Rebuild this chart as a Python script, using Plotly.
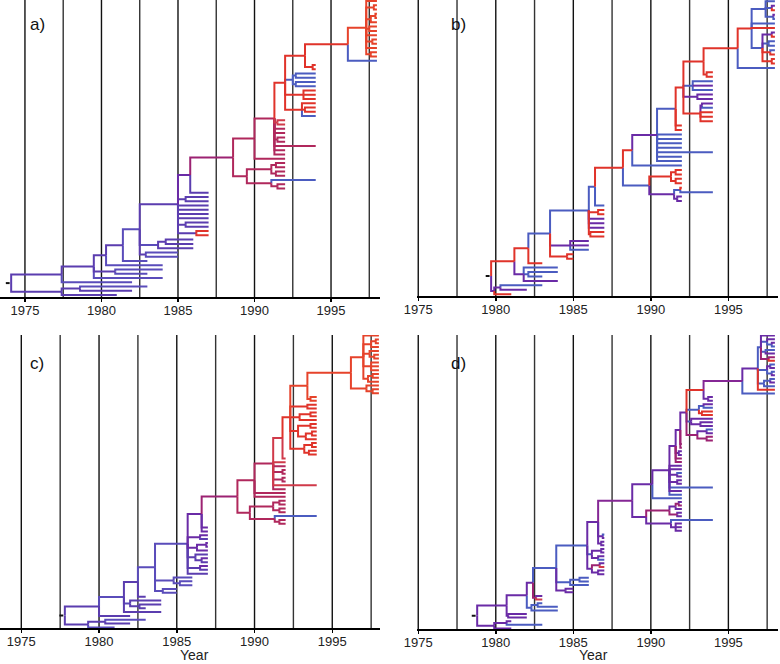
import plotly.graph_objects as go

# ---------------- data ----------------
# Trees in Newick-like form: leaves "year/trait", internal nodes "(children)year/trait".
# Children are listed bottom -> top. Trait is a 0 (blue) .. 9 (red) state value of the branch.
TREE_A = (
    "((1981/2,(1982/2,1983/1)1978.6/2)1977.4/2,"
    "(1982/1,(1984/1,(1983/1,1984/1)1980.9/2,(1984/1,(1983/1,"
    "((1985/1,1985/1)1982.9/2,(1986/2,(1986/2,1986/2)1984.2/2)1983.7/1,"
    "((1987/8,1987/8)1986.2/2,(1987/2,1987/2)1985.5/2,1987/2,1987/2,1987/2,1987/2,(1987/2,1987/2)1985.5/2,"
    "(1987/2,"
    "((((1992/6,1992/6)1991.5/6,1994/0)1991.1/6,((1992/6,1992/6)1991.4/6,(1992/6,1992/6)1991.4/6)1991.1/6)1989.5/6,"
    "(1992/6,(1992/6,1992/6,1994/6,(1992/6,1992/6)1991.5/6,1992/6,1992/6,(1992/7,1992/7)1991.5/7,"
    "((1994/0,(1994/8,1994/8)1993.3/8,1994/8)1993.1/8,(1994/8,1994/8,1994/8)1993.2/8,((1994/0,1994/0)1992.7/0,(1994/0,1994/0)1992.7/0)1992.5/0,"
    "((1994/8,1994/8)1993.8/8,(1998/0,"
    "((1998/9,1998/9)1997.6/9,1998/9,(1998/9,1998/9)1997.7/9,1998/9,(1998/9,1998/9)1997.5/9,(1998/9,(1998/9,1998/9)1997.9/9)1997.6/9,(1998/9,1998/9)1997.8/9,1998/9)1997.3/9"
    ")1996.1/8)1993.3/8"
    ")1992.0/8)1991.3/6)1990.0/6"
    ")1988.6/5)1985.8/3"
    ")1985.0/2)1982.5/1)1981.4/2)1980.3/2)1979.5/2)1977.4/2"
    ")1974.1/2"
)

TREE_B = (
    "((1981/8,(1982/3,1983/0)1980.3/3)1979.9/3,"
    "((1984/3,(1983/0,1984/0)1982.1/0,1984/0)1981.8/3,"
    "(1983/8,"
    "((1985/8,1985/8)1984.6/8,(1986/0,1986/3,1986/3)1984.8/3,"
    "((1987/8,1987/8)1986.1/8,1987/3,1987/3,1987/3,(1987/8,1987/8)1986.6/8,"
    "(1987/0,"
    "("
    "(((1992/3,1992/3)1991.7/3,(1994/0,1992/8)1991.9/0)1991.5/3,((1992/8,1992/8)1991.6/8,(1992/8,1992/8)1991.6/8)1991.3/8)1989.9/0,"
    "(1992/0,(1992/0,1992/0,1994/0,1992/0,1992/0,1992/0,1992/0,"
    "(1992/8,1992/8,"
    "((1994/8,1994/8,1994/8,(1994/0,1994/3)1993.3/3)1993.2/8,(1994/3,1994/3)1993.0/3,(1994/0,1994/3,1994/0)1992.7/0,"
    "((1994/8,1994/8)1993.6/8,(1998/0,"
    "(((1998/8,1998/8)1997.8/8,(1998/8,1998/0)1997.7/8,(1998/0,1998/0)1997.6/0,(1998/8,1998/3)1997.8/3)1997.2/0,1998/8,1998/0,((1998/0,1998/3)1997.9/0,(1998/8,1998/3)1997.8/0,1998/0)1997.4/0)1996.5/8"
    ")1995.6/8)1993.4/8"
    ")1992.1/8)1991.6/0)1990.4/3)1988.8/8"
    ")1988.2/8)1986.4/0)1986.0/0)1983.5/0)1982.1/8)1981.2/8"
    ")1979.7/3"
)

TREE_C = (
    "((1981/1,(1982/2,1983/1)1980.4/2)1979.3/2,"
    "(1982/2,"
    "(1984/2,((1983/2,1984/2)1982.6/2,1984/2)1982.0/1,"
    "(1983/2,"
    "((1985/1,1985/1)1984.1/1,((1986/1,1986/1)1985.2/1,1986/1)1984.8/1,"
    "(1987/2,(1987/2,1987/3)1986.5/2,((1987/2,1987/3)1986.6/2,1987/2)1986.2/2,(1987/3,(1987/3,1987/3)1986.9/3)1986.3/3,(1987/2,1987/3)1986.5/3,"
    "(1987/3,1987/3,"
    "("
    "(((1992/6,1992/6)1991.6/6,1994/0)1991.3/6,((1992/6,1992/6)1991.6/6,(1992/6,1992/6)1991.6/6)1991.2/6)1989.7/6,"
    "(1992/6,1992/6,(1992/6,1994/7,(1992/6,1992/6)1991.8/6,(1992/6,1992/6)1991.8/6,1992/6,1992/7,"
    "(1992/7,"
    "(((1994/8,1994/8)1993.5/8,(1994/8,1994/8)1993.7/8)1993.2/8,((1994/8,(1994/8,1994/8)1993.7/8)1993.3/8,(1994/8,1994/8)1993.6/8)1992.8/8,(1994/8,(1994/8,1994/8)1993.6/8)1992.9/8,(1994/8,1994/8)1993.4/8,"
    "((1994/9,1994/9)1993.6/9,(((1998/9,1998/9)1997.6/9,1998/9)1997.2/9,"
    "((1998/9,(1998/9,1998/9)1997.6/9)1997.3/9,(1998/9,1998/9,1998/9)1997.5/9,((1998/9,1998/9)1997.7/9,1998/9)1997.4/9,(1998/9,(1998/9,1998/9)1997.8/9)1997.5/9,1998/9)1997.0/9"
    ")1996.2/9)1993.4/9"
    ")1992.3/8)1991.8/7)1991.2/6)1990.0/6"
    ")1988.9/5)1986.6/3)1985.7/1)1983.6/1)1982.5/2)1981.6/1)1980.0/2"
    ")1977.8/2"
)

TREE_D = (
    "((1981/3,(1983/0,1981/3)1980.7/3)1979.9/3,"
    "((1982/3,1982/3)1980.8/3,"
    "((1984/0,(1984/0,1983/0)1982.7/0)1982.3/0,"
    "((1983/7,1983/3)1982.6/5,"
    "((1985/3,1985/3)1984.5/3,(1986/0,(1986/0,1986/0)1985.4/0)1984.8/0,"
    "(((1987/3,1987/3)1986.6/3,(1987/7,1987/3)1986.7/5)1986.2/3,((1987/0,1987/3)1986.6/3,(1987/3,1987/3)1986.8/3)1986.2/0,"
    "((1987/3,1987/3)1986.8/3,(1987/3,1987/0)1986.9/3,"
    "("
    "(((1992/3,1992/3,1992/3)1991.6/3,1994/0)1991.3/3,((1992/3,1992/3)1991.7/5,(1992/3,(1992/5,1992/3)1991.8/5)1991.6/3)1991.2/5)1989.7/3,"
    "(1992/0,(1992/0,1992/3,1994/0,(1992/3,1992/3)1991.7/3,(1992/3,1992/0)1991.7/3,1992/3,1992/3,"
    "(1992/5,1992/5,(1992/3,1992/3)1991.8/3,"
    "(1992/5,1992/5,"
    "(((1994/5,1994/5)1993.6/5,(1994/3,1994/0)1993.6/3)1993.0/5,((1994/3,1994/3)1993.2/3,1994/3)1992.6/0,((1994/8,1994/8)1993.3/8,(1994/0,1994/3)1993.4/0)1993.1/0,"
    "((1994/3,1994/3)1993.7/3,(1998/0,"
    "(1998/8,(1998/0,(1998/3,1998/0)1997.7/0)1997.3/0,((1998/3,1998/0)1997.8/0,(1998/3,1998/0)1997.7/3)1997.5/0,"
    "((1998/8,1998/5)1997.6/5,(1998/3,1998/0)1997.4/0,((1998/0,1998/3)1997.8/0,1998/3)1997.5/0,1998/3)1997.1/0"
    ")1996.9/3)1995.9/4)1993.4/8"
    ")1992.3/3)1991.9/3)1991.6/3)1991.2/3)1990.1/3"
    ")1988.8/4)1986.6/3)1985.9/0)1983.9/0)1982.4/3)1982.0/3)1980.7/3"
    ")1978.8/3"
)

PANEL_LABELS = ["a)", "b)", "c)", "d)"]
YEAR_TICKS = [1975, 1980, 1985, 1990, 1995]
GRID_YEARS = [1975, 1977.5, 1980, 1982.5, 1985, 1987.5, 1990, 1992.5, 1995, 1997.5]
AXIS_TITLE = "Year"

# ---------------- style ----------------
PALETTE = ["#4b5cc0", "#5a4cba", "#5b3daf", "#6a2ba6", "#852795",
           "#9c2272", "#b0285c", "#d03a4a", "#e0332a", "#e6432b"]
W, H = 780, 664
LAYOUT = [
    dict(xdom=[0, 380 / W], ydom=[1 - 297 / H, 1.0], xr=[1973.37, 1998.2], pad=(0.47, 0.25)),
    dict(xdom=[416.7 / W, 778 / W], ydom=[1 - 296 / H, 1.0], xr=[1974.9, 1998.2], pad=(0.4, 0.3)),
    dict(xdom=[0, 380 / W], ydom=[1 - 628 / H, 1 - 335 / H], xr=[1973.63, 1998.07], pad=(0.15, 0.15)),
    dict(xdom=[416.7 / W, 778 / W], ydom=[1 - 629 / H, 1 - 335 / H], xr=[1974.9, 1998.2], pad=(0.15, 0.15)),
]
FONT = "Liberation Sans, Arial, Helvetica, sans-serif"


def parse(s):
    s = s.replace(" ", "")
    pos = 0

    def node():
        nonlocal pos
        ch = []
        if s[pos] == "(":
            pos += 1
            while True:
                ch.append(node())
                if s[pos] == ",":
                    pos += 1
                    continue
                if s[pos] == ")":
                    pos += 1
                    break
        start = pos
        while pos < len(s) and s[pos] not in ",)":
            pos += 1
        t, c = s[start:pos].split("/")
        return {"t": float(t), "c": int(c), "ch": ch}

    root = node()
    assert pos == len(s)
    return root


def place(n, counter):
    if not n["ch"]:
        n["y"] = counter[0]
        counter[0] += 1
    else:
        for c in n["ch"]:
            place(c, counter)
        n["y"] = (n["ch"][0]["y"] + n["ch"][-1]["y"]) / 2.0


def segments(root):
    segs = {}

    def rec(n):
        for c in n["ch"]:
            xs, ys = segs.setdefault(c["c"], ([], []))
            xs += [n["t"], n["t"], c["t"], None]
            ys += [n["y"], c["y"], c["y"], None]
            rec(c)

    rec(root)
    return segs


fig = go.Figure()
shapes = []
annotations = []
for i, (tree, lab, cfg) in enumerate(zip([TREE_A, TREE_B, TREE_C, TREE_D], PANEL_LABELS, LAYOUT)):
    k = "" if i == 0 else str(i + 1)
    xa, ya = "x" + k, "y" + k
    root = parse(tree)
    cnt = [0]
    place(root, cnt)
    n_leaves = cnt[0]
    segs = segments(root)
    for c in sorted(segs):
        xs, ys = segs[c]
        fig.add_trace(go.Scatter(x=xs, y=ys, mode="lines", xaxis=xa, yaxis=ya,
                                 line=dict(color=PALETTE[c], width=2),
                                 hoverinfo="skip", showlegend=False))
    # root stem
    fig.add_trace(go.Scatter(x=[root["t"] - 0.35, root["t"] - 0.1], y=[root["y"], root["y"]],
                             mode="lines", xaxis=xa, yaxis=ya,
                             line=dict(color="#111", width=2), hoverinfo="skip", showlegend=False))
    for g in GRID_YEARS:
        shapes.append(dict(type="line", xref=xa, yref=ya + " domain", x0=g, x1=g, y0=0, y1=1,
                           line=dict(color="#111" if g % 5 == 0 else "#333", width=1.4),
                           layer="below"))
    xd, yd = cfg["xdom"], cfg["ydom"]
    fig.layout["xaxis" + k] = dict(domain=xd, range=cfg["xr"], anchor=ya, showgrid=False,
                                   zeroline=False, showline=True, linecolor="#000", linewidth=2,
                                   automargin=False,
                                   ticks="outside", ticklen=3, tickwidth=1.5, tickcolor="#000",
                                   ticklabelstandoff=-3,
                                   tickvals=YEAR_TICKS, ticktext=[str(v) for v in YEAR_TICKS],
                                   tickfont=dict(family=FONT, size=13, color="#222"))
    fig.layout["yaxis" + k] = dict(domain=yd, range=[-cfg["pad"][0], n_leaves - 1 + cfg["pad"][1]],
                                   anchor=xa, visible=False, showgrid=False, zeroline=False,
                                   automargin=False)
    annotations.append(dict(text=lab, xref="paper", yref="paper",
                            x=(xd[0] * W + (37 if i % 2 == 0 else 42)) / W,
                            y=1 - ((24 if i < 2 else 363)) / H,
                            xanchor="center", yanchor="middle", showarrow=False,
                            font=dict(family=FONT, size=17, color="#111")))
    if i >= 2:
        annotations.append(dict(text=AXIS_TITLE, xref="paper", yref="paper",
                                x=(194 if i == 2 else 593) / W, y=1 - 655 / H,
                                xanchor="center", yanchor="middle", showarrow=False,
                                font=dict(family=FONT, size=14, color="#222")))

fig.update_layout(template="none", width=W, height=H, autosize=False,
                  margin=dict(l=0, r=0, t=0, b=0, pad=0, autoexpand=False),
                  paper_bgcolor="white", plot_bgcolor="white",
                  shapes=shapes, annotations=annotations, showlegend=False)
fig.write_html("out.html", config={"displayModeBar": False, "staticPlot": True},
               post_script="document.body.style.margin='0';document.body.style.overflow='hidden';")
